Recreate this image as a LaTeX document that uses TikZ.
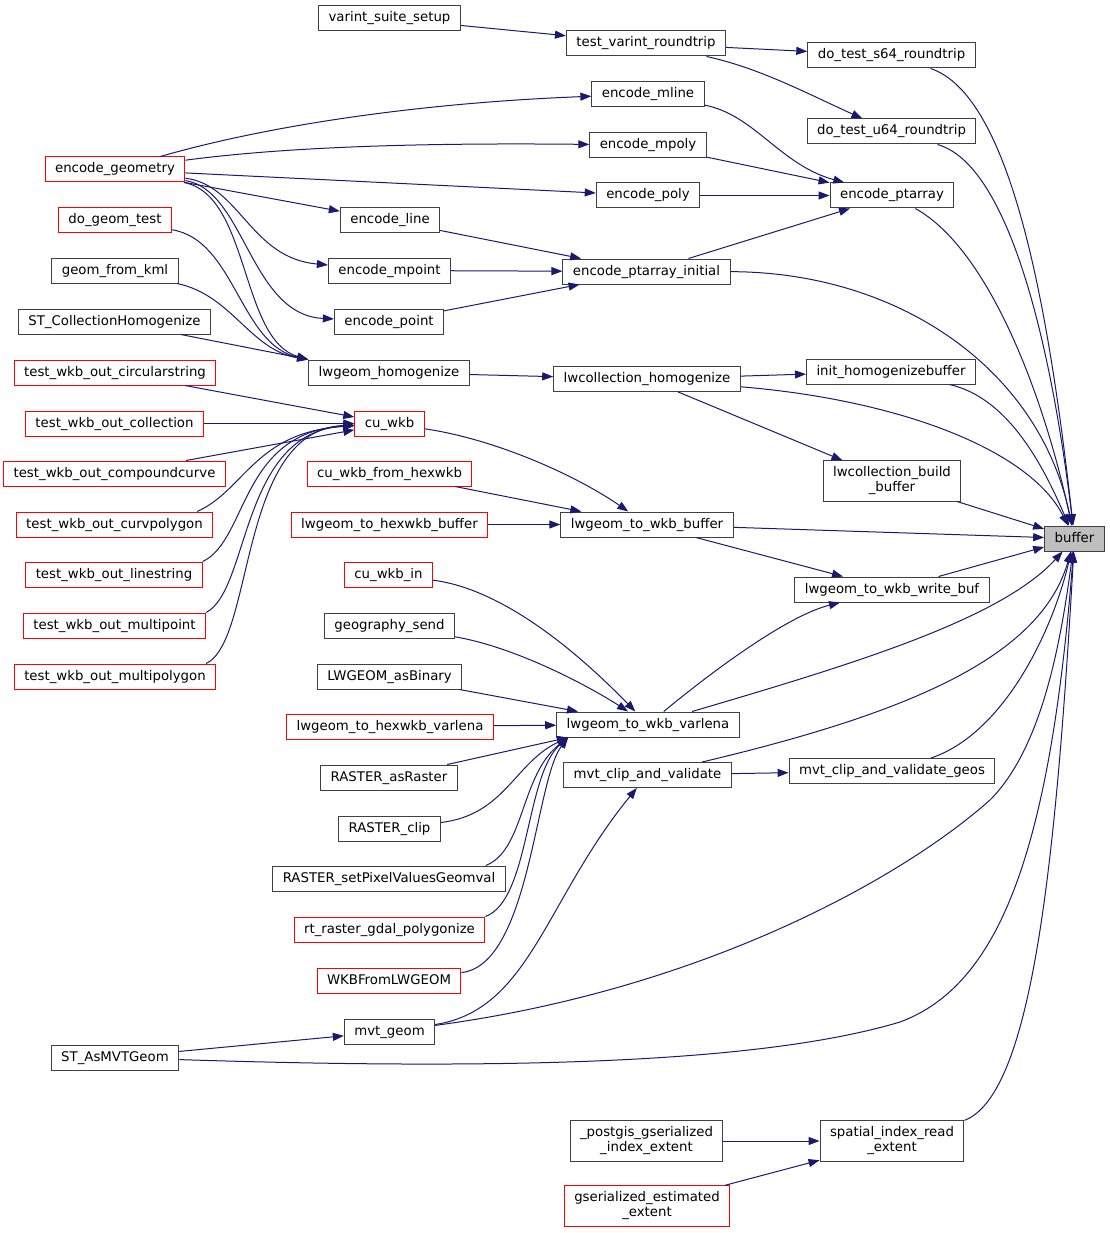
\documentclass[tikz,border=0pt]{standalone}
\usepackage{fontspec}
\setmainfont{DejaVu Sans}
\usetikzlibrary{arrows.meta}
\definecolor{edgecol}{HTML}{191970}
\definecolor{grey25}{HTML}{404040}
\definecolor{grey75}{HTML}{BFBFBF}
\begin{document}
\begin{tikzpicture}[x=1pt,y=-1pt,line width=1pt,draw=edgecol,->,>={Triangle[length=11pt,width=8pt]},
    font=\fontsize{13.3}{15}\selectfont]
            \tikzstyle{fn}=[draw=grey25,fill=white,text=black,inner xsep=10pt,inner ysep=0pt,
                text height=10pt,text depth=3pt,minimum height=25pt]
            \tikzstyle{red}=[fn,draw=red]
            \tikzstyle{two}=[align=center,text height=,text depth=,inner ysep=6pt]
            \useasboundingbox (0,0) rectangle (1109,1233);
            % left column
            \node[red](encgeom) at (115,169.5){encode\_geometry};
            \node[red](dogeom) at (115,220.5){do\_geom\_test};
            \node[fn](gkml) at (115,270.5){geom\_from\_kml};
            \node[fn](stcoll) at (114.5,321.5){ST\_CollectionHomogenize};
            \node[red](tcirc) at (115,372.5){test\_wkb\_out\_circularstring};
            \node[red](tcoll) at (114.5,423.5){test\_wkb\_out\_collection};
            \node[red](tcomp) at (114.5,473.5){test\_wkb\_out\_compoundcurve};
            \node[red](tcurv) at (114.5,524.5){test\_wkb\_out\_curvpolygon};
            \node[red](tline) at (114,574.5){test\_wkb\_out\_linestring};
            \node[red](tmpt) at (114.5,625.5){test\_wkb\_out\_multipoint};
            \node[red](tmpoly) at (115,676.5){test\_wkb\_out\_multipolygon};
            \node[fn](stmvt) at (115,1057.5){ST\_AsMVTGeom};
            % second column
            \node[fn](vss) at (389.5,18.5){varint\_suite\_setup};
            \node[fn](eline) at (390,220.5){encode\_line};
            \node[fn](mpoint) at (389.5,270.5){encode\_mpoint};
            \node[fn](point) at (389,321.5){encode\_point};
            \node[fn](lwhom) at (389,372.5){lwgeom\_homogenize};
            \node[red](cuwkb) at (389.5,423.5){cu\_wkb};
            \node[red](cuhex) at (389.5,473.5){cu\_wkb\_from\_hexwkb};
            \node[red](hexbuf) at (389.5,524.5){lwgeom\_to\_hexwkb\_buffer};
            \node[red](cuin) at (388.5,574.5){cu\_wkb\_in};
            \node[fn](gsend) at (389.5,625.5){geography\_send};
            \node[fn](asbin) at (389.5,676.5){LWGEOM\_asBinary};
            \node[red](hexvar) at (390,726.5){lwgeom\_to\_hexwkb\_varlena};
            \node[fn](asrast) at (389,777.5){RASTER\_asRaster};
            \node[fn](rclip) at (389.5,828.5){RASTER\_clip};
            \node[fn](rsetpx) at (389,878.5){RASTER\_setPixelValuesGeomval};
            \node[red](rtgdal) at (389.5,929.5){rt\_raster\_gdal\_polygonize};
            \node[red](wkbfrom) at (389,980.5){WKBFromLWGEOM};
            \node[fn](mvtgeom) at (389.5,1031.5){mvt\_geom};
            % third column
            \node[fn](tvr) at (646,43.5){test\_varint\_roundtrip};
            \node[fn](mline) at (648,94){encode\_mline};
            \node[fn](mpoly) at (648,145){encode\_mpoly};
            \node[fn](poly) at (648,195.5){encode\_poly};
            \node[fn](ptinit) at (646.5,271.5){encode\_ptarray\_initial};
            \node[fn](lwch) at (647,379){lwcollection\_homogenize};
            \node[fn](wkbbuf) at (647,524.5){lwgeom\_to\_wkb\_buffer};
            \node[fn](varl) at (648,724.5){lwgeom\_to\_wkb\_varlena};
            \node[fn](mvtclip) at (647.5,775){mvt\_clip\_and\_validate};
            \node[fn,two](pgidx) at (646.5,1141){\_postgis\_gserialized\\\_index\_extent};
            \node[red,two](gsest) at (647,1206){gserialized\_estimated\\\_extent};
            % fourth column
            \node[fn](s64) at (891.5,55.5){do\_test\_s64\_roundtrip};
            \node[fn](u64) at (891.5,131.5){do\_test\_u64\_roundtrip};
            \node[fn](ptarr) at (892,195.5){encode\_ptarray};
            \node[fn](inithb) at (891,371.5){init\_homogenizebuffer};
            \node[fn,two](lcbb) at (892,481){lwcollection\_build\\\_buffer};
            \node[fn](wbuf) at (892,589.5){lwgeom\_to\_wkb\_write\_buf};
            \node[fn](geos) at (892,771){mvt\_clip\_and\_validate\_geos};
            \node[fn,two](sidx) at (892,1141){spatial\_index\_read\\\_extent};
            \node[fn,fill=grey75](buf) at (1074.5,538.5){buffer};
            % straight calls
            \foreach \a/\b in {vss/tvr,tvr/s64,encgeom/poly,encgeom/eline,mpoly/ptarr,poly/ptarr,
                eline/ptinit,mpoint/ptinit,point/ptinit,ptinit/ptarr,lwhom/lwch,lwch/inithb,lwch/lcbb,
                lcbb/buf,tcirc/cuwkb,tcoll/cuwkb,tcomp/cuwkb,cuhex/wkbbuf,hexbuf/wkbbuf,wkbbuf/buf,
                wkbbuf/wbuf,wbuf/buf,asbin/varl,hexvar/varl,mvtclip/geos,stmvt/mvtgeom,pgidx/sidx,gsest/sidx}
                \draw (\a) -- (\b);
            \draw (stcoll) -- (lwhom.north west);
            \draw (asrast) -- ([xshift=12pt]varl.south west);
            % curved calls
            \draw (tvr) .. controls (760,68) and (810,95) .. (u64);
            \draw (s64) .. controls (1010,95) and (1048,300) .. (buf);
            \draw (u64) .. controls (1010,165) and (1052,350) .. (buf);
            \draw (encgeom) .. controls (270,125) and (420,103) .. (mline);
            \draw (encgeom) .. controls (300,145) and (450,143) .. (mpoly);
            \draw (encgeom) .. controls (240,185) and (250,258) .. (mpoint);
            \draw (encgeom) .. controls (245,190) and (250,315) .. (point);
            \draw (encgeom) .. controls (250,195) and (240,340) .. (lwhom.north west);
            \draw (dogeom) .. controls (235,240) and (240,345) .. (lwhom.north west);
            \draw (gkml) .. controls (232,295) and (250,350) .. (lwhom.north west);
            \draw (mline) .. controls (755,115) and (780,165) .. (ptarr);
            \draw (ptarr) .. controls (990,250) and (1045,400) .. (buf);
            \draw (ptinit) .. controls (900,272) and (1040,370) .. (buf);
            \draw (lwch) .. controls (900,400) and (1030,450) .. (buf);
            \draw (inithb) .. controls (1010,398) and (1045,470) .. (buf);
            \draw ([xshift=-16pt]tcurv.north east) .. controls (245,490) and (255,432) .. (cuwkb);
            \draw (tline.north east) .. controls (248,540) and (240,432) .. (cuwkb);
            \draw (tmpt.north east) .. controls (250,590) and (240,432) .. (cuwkb);
            \draw ([xshift=-10pt]tmpoly.north east) .. controls (255,640) and (238,430) .. (cuwkb);
            \draw (cuwkb) .. controls (500,440) and (580,478) .. (wkbbuf);
            \draw (cuin) .. controls (510,590) and (590,665) .. (varl);
            \draw (gsend) .. controls (520,648) and (595,690) .. (varl);
            \draw (rclip) .. controls (505,815) and (515,762) .. ([xshift=12pt]varl.south west);
            \draw ([xshift=-20pt]rsetpx.north east) .. controls (525,850) and (520,775) .. ([xshift=12pt]varl.south west);
            \draw (rtgdal.north east) .. controls (530,900) and (525,775) .. ([xshift=12pt]varl.south west);
            \draw (wkbfrom) .. controls (530,965) and (535,780) .. ([xshift=12pt]varl.south west);
            \draw (varl) .. controls (720,665) and (790,615) .. (wbuf);
            \draw (varl) .. controls (850,665) and (1000,620) .. (buf);
            \draw (mvtclip) .. controls (900,715) and (1040,660) .. (buf);
            \draw (geos) .. controls (1000,735) and (1050,640) .. (buf);
            \draw (mvtgeom) .. controls (530,1010) and (545,900) .. (mvtclip);
            \draw (mvtgeom) .. controls (700,990) and (900,880) .. (990,800)
                .. controls (1040,750) and (1060,650) .. (buf);
            \draw (stmvt) .. controls (500,1070) and (760,1064) .. (900,1022)
                .. controls (1000,985) and (1050,850) .. (buf);
            \draw (sidx.north east) .. controls (1030,1095) and (1055,880) .. (buf);
          \end{tikzpicture}
\end{document}
